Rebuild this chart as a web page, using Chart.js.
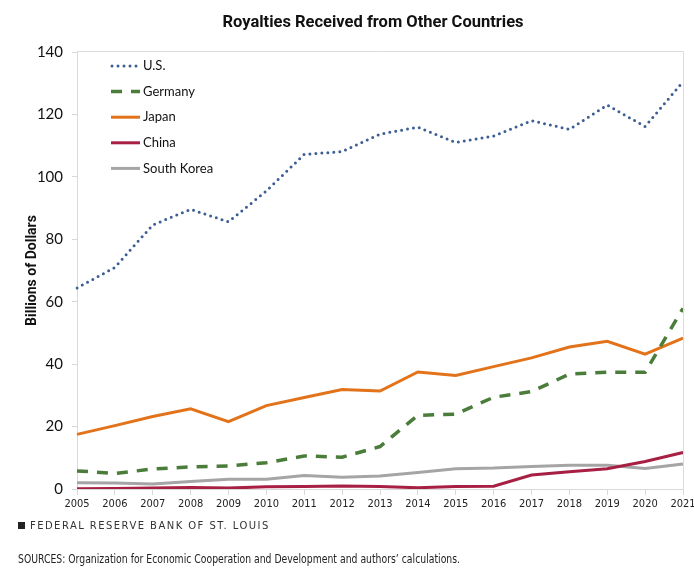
<!DOCTYPE html>
<html>
<head>
<meta charset="utf-8">
<script src="https://cdn.jsdelivr.net/npm/chart.js@4"></script>
<style>
  html, body { margin: 0; padding: 0; background: #fff; }
</style>
</head>
<body>
<canvas id="chart" width="694" height="579"></canvas>
<script>
// Datos (miles de millones de dolares)
const years = ['2005', '2006', '2007', '2008', '2009', '2010', '2011', '2012', '2013',
  '2014', '2015', '2016', '2017', '2018', '2019', '2020', '2021'];
const usValues = [64.4, 71, 84.6, 89.6, 85.6, 95.5, 107.2, 108.1, 113.7, 115.9, 111, 113.1, 118, 115.2, 123, 116.1, 130.5];
const germanyValues = [5.8, 5.0, 6.4, 7.1, 7.4, 8.4, 10.6, 10.2, 13.6, 23.6, 24, 29.4, 31.2, 36.8, 37.4, 37.4, 57.9];
const japanValues = [17.5, 20.3, 23.2, 25.7, 21.6, 26.7, 29.3, 31.9, 31.4, 37.5, 36.4, 39.2, 42, 45.5, 47.3, 43.2, 48.3];
const chinaValues = [0.1, 0.2, 0.3, 0.5, 0.3, 0.7, 0.8, 1.0, 0.8, 0.4, 0.8, 0.9, 4.5, 5.5, 6.5, 8.8, 11.7];
const koreaValues = [2.0, 1.9, 1.6, 2.4, 3.1, 3.1, 4.3, 3.8, 4.2, 5.3, 6.5, 6.7, 7.2, 7.6, 7.6, 6.6, 8.0];
const yTicks = [0, 20, 40, 60, 80, 100, 120, 140];

const chartTitle = 'Royalties Received from Other Countries';
const footerBank = 'FEDERAL RESERVE BANK OF ST. LOUIS';
const footerSources = 'SOURCES: Organization for Economic Cooperation and Development and authors\u2019 calculations.';

/**
 * Titulo, marco del area, leyenda y pie de pagina
 */
const extras = {
  id: 'extras',
  afterDraw(chart) {
    const ctx = chart.ctx;
    const area = chart.chartArea;
    ctx.save();

    // marco gris claro
    ctx.strokeStyle = '#dcdcdc';
    ctx.lineWidth = 1;
    ctx.beginPath();
    ctx.moveTo(area.left, area.top - 0.5);
    ctx.lineTo(area.right + 0.5, area.top - 0.5);
    ctx.lineTo(area.right + 0.5, area.bottom);
    ctx.stroke();

    // titulo
    ctx.fillStyle = '#111';
    ctx.font = 'bold 16.5px Roboto';
    ctx.textAlign = 'center';
    ctx.textBaseline = 'middle';
    ctx.fillText(chartTitle, 373, 23);

    // leyenda
    ctx.font = '13px Lato';
    ctx.textAlign = 'left';
    chart.data.datasets.forEach((ds, i) => {
      const y = 66 + i * 25.6;
      ctx.beginPath();
      ctx.strokeStyle = ds.borderColor;
      ctx.lineWidth = ds.borderWidth;
      ctx.lineCap = ds.borderCapStyle || 'butt';
      ctx.setLineDash(ds.borderDash || []);
      ctx.moveTo(i === 0 ? 112 : 111, y);
      ctx.lineTo(140, y);
      ctx.stroke();
      ctx.setLineDash([]);
      ctx.fillStyle = '#111';
      ctx.fillText(ds.label, 143, y);
    });

    // pie
    ctx.fillStyle = '#222';
    ctx.fillRect(18, 522, 7, 7);
    ctx.font = '10px "DejaVu Sans"';
    ctx.letterSpacing = '1.45px';
    ctx.fillStyle = '#333';
    ctx.fillText(footerBank, 30, 526);
    ctx.letterSpacing = '0px';
    ctx.font = '11.5px "Liberation Sans Narrow", "DejaVu Sans Condensed"';
    ctx.fillStyle = '#222';
    ctx.fillText(footerSources, 18, 560, 442);
    ctx.restore();
  }
};

const ctx = document.getElementById('chart');

new Chart(ctx, {
  type: 'line',
  data: {
    labels: years,
    datasets: [
      {
        label: 'U.S.',
        data: usValues,
        borderColor: '#3c5e92',
        borderWidth: 3,
        borderDash: [0, 6],
        borderCapStyle: 'round'
      },
      {
        label: 'Germany',
        data: germanyValues,
        borderColor: '#4a7d3a',
        borderWidth: 3.5,
        borderDash: [11, 9]
      },
      {
        label: 'Japan',
        data: japanValues,
        borderColor: '#e3731a',
        borderWidth: 3
      },
      {
        label: 'China',
        data: chinaValues,
        borderColor: '#a81f44',
        borderWidth: 3
      },
      {
        label: 'South Korea',
        data: koreaValues,
        borderColor: '#a5a5a5',
        borderWidth: 3
      }
    ]
  },
  options: {
    responsive: false,
    animation: false,
    layout: {
      padding: { top: 52, right: 11, bottom: 60, left: 0 }
    },
    elements: {
      point: { radius: 0 },
      line: { tension: 0 }
    },
    scales: {
      x: {
        offset: false,
        grid: { drawOnChartArea: false, tickLength: 6, color: '#d9d9d9' },
        border: { color: '#d9d9d9' },
        ticks: {
          autoSkip: false,
          maxRotation: 0,
          padding: 3,
          color: '#222',
          font: { family: '"Liberation Sans Narrow", "DejaVu Sans Condensed"', size: 11 }
        },
        afterFit: function(scale) {
          scale.height = 30;
          scale.paddingRight = 0;
        }
      },
      y: {
        min: 0,
        max: 140,
        afterBuildTicks: function(scale) {
          scale.ticks = yTicks.map(v => ({ value: v }));
        },
        grid: { drawOnChartArea: false, tickLength: 5, color: '#d9d9d9' },
        border: { color: '#d9d9d9' },
        ticks: {
          padding: 9,
          color: '#111',
          font: { family: 'Lato', size: 15 }
        },
        title: {
          display: true,
          text: 'Billions of Dollars',
          color: '#111',
          font: { family: 'Roboto', size: 14, weight: 'bold' },
          padding: { top: 24, bottom: 0 }
        },
        afterFit: function(scale) { scale.width = 77; }
      }
    },
    plugins: {
      legend: { display: false },
      tooltip: { enabled: false }
    }
  },
  plugins: [extras]
});
</script>
</body>
</html>
